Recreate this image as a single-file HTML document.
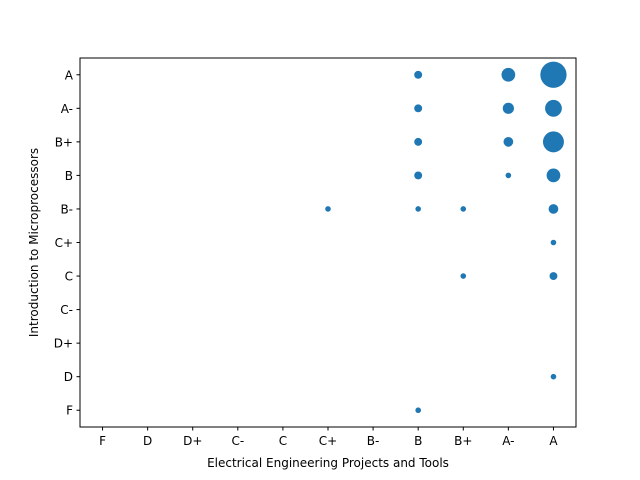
<!DOCTYPE html>
<html><head><meta charset="utf-8"><style>
body{margin:0;background:#fff}
svg{display:block;font-family:"DejaVu Sans","Liberation Sans",sans-serif}
</style></head><body>
<svg id="chart" width="640" height="480">
<rect x="80" y="58" width="496" height="369" fill="#fff" stroke="#000" stroke-width="1"/>
<g id="marks"></g><g id="axes"></g>
<text x="328" y="467" text-anchor="middle" font-size="12">Electrical Engineering Projects and Tools</text>
<text transform="translate(38,242.5) rotate(-90)" text-anchor="middle" font-size="12">Introduction to Microprocessors</text>
</svg>
<script>
const grades = ["F","D","D+","C-","C","C+","B-","B","B+","A-","A"];
const xGrades = ["B","A-","A","B","A-","A","B","A-","A","B","A-","A","C+","B","B+","A","A","B+","A","A","B"];
const yGrades = ["A","A","A","A-","A-","A-","B+","B+","B+","B","B","B","B-","B-","B-","B-","C+","C","C","D","F"];
const counts  = [2,6,22,2,4,9,2,3,14,2,1,6,1,1,1,3,1,1,2,1,1];
const ns="http://www.w3.org/2000/svg";
const L=80,R=576,T=58,B=427;
function xs(i){return L+(i+0.5)*(R-L)/11;}
function ys(i){return B-(i+0.5)*(B-T)/11;}
const axes=document.getElementById('axes'), marks=document.getElementById('marks');
grades.forEach((g,i)=>{
  let t=document.createElementNS(ns,'line');
  t.setAttribute('x1',xs(i));t.setAttribute('x2',xs(i));t.setAttribute('y1',B);t.setAttribute('y2',B+3.5);t.setAttribute('stroke','#000');
  
  
  axes.appendChild(t);
  let lb=document.createElementNS(ns,'text');
  lb.setAttribute('x',xs(i));lb.setAttribute('y',B+18);lb.setAttribute('text-anchor','middle');lb.setAttribute('font-size','12');lb.textContent=g;
  
  
  axes.appendChild(lb);
  let t2=document.createElementNS(ns,'line');
  t2.setAttribute('x1',L-3.5);t2.setAttribute('x2',L);t2.setAttribute('y1',ys(i));t2.setAttribute('y2',ys(i));t2.setAttribute('stroke','#000');
  
  
  axes.appendChild(t2);
  let l2=document.createElementNS(ns,'text');
  l2.setAttribute('x',L-7);l2.setAttribute('y',ys(i)+4.5);l2.setAttribute('text-anchor','end');l2.setAttribute('font-size','12');l2.textContent=g;
  
  
  axes.appendChild(l2);
});
counts.forEach((c,k)=>{
  let p=document.createElementNS(ns,'circle');
  p.setAttribute('cx',xs(grades.indexOf(xGrades[k])));
  p.setAttribute('cy',ys(grades.indexOf(yGrades[k])));
  p.setAttribute('r',2.8*Math.sqrt(c));
  p.setAttribute('fill','#1f77b4');
  
  
  marks.appendChild(p);
});
</script>
</body></html>
